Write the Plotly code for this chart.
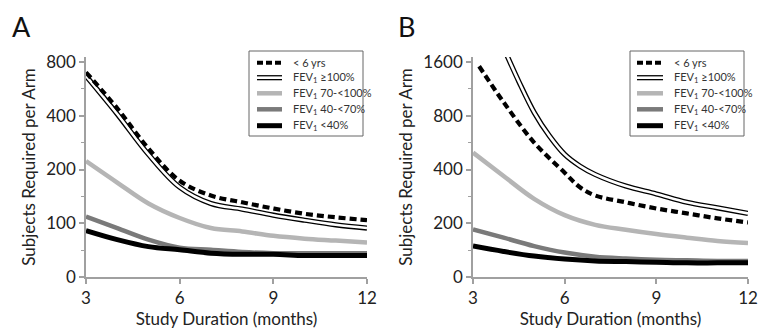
import plotly.graph_objects as go
import math

# ---------------- data ----------------
months = [3, 4, 5, 6, 7, 8, 9, 10, 11, 12]

# Panel A
a_lt6_y = [700, 440, 262, 173, 143, 131, 121, 113, 108, 104]
a_ge100_y = [668, 409, 243, 159, 129, 120, 111, 104, 98, 94]
a_70_100_y = [223, 169, 129, 107, 94, 90, 85, 82, 80, 78]
a_40_70_y = [109, 94, 81, 73, 71, 69, 68, 68, 68, 68]
a_lt40_y = [91, 81, 74, 71, 68, 67, 67, 66, 66, 66]

# Panel B
b_lt6_x = [3.2, 4, 5, 6, 6.5, 7, 8, 9, 10, 11, 12]
b_lt6_y = [1515, 953, 566, 384, 318, 286, 262, 242, 227, 213, 202]
b_ge100_x = [4.1, 4.5, 5, 5.5, 6, 6.5, 7, 8, 9, 10, 11, 12]
b_ge100_y = [1760, 1244, 836, 617, 486, 418, 375, 323, 292, 262, 244, 227]
b_70_100_y = [497, 368, 274, 222, 196, 184, 174, 166, 159, 155]
b_40_70_y = [185, 166, 149, 137, 130, 127, 125, 124, 123, 123]
b_lt40_y = [149, 139, 131, 126, 123, 122, 121, 120, 120, 120]

x_ticks = [3, 6, 9, 12]
a_tickvals = [50, 100, 200, 400, 800]
a_ticktext = ["0", "100", "200", "400", "800"]
b_tickvals = [100, 200, 400, 800, 1600]
b_ticktext = ["0", "200", "400", "800", "1600"]

legend_labels = ["&lt; 6 yrs", "FEV<sub>1</sub> ≥100%", "FEV<sub>1</sub> 70-&lt;100%",
                 "FEV<sub>1</sub> 40-&lt;70%", "FEV<sub>1</sub> &lt;40%"]

# ---------------- styles ----------------
W, H = 761, 333
FONT = "Lato"
AXCOL = "#a0a0a0"
LIGHT = "#b5b5b5"
DARK = "#7a7a7a"
BLACK = "#000000"


def px(x):
    return x / W


def py(y):
    return 1 - y / H


fig = go.Figure()


def add_panel(xa, ya, xs_lt6, ys_lt6, xs_ge, ys_ge, y70, y40, ylt40):
    common = dict(xaxis=xa, yaxis=ya, mode="lines", showlegend=False,
                  line_shape="spline", hoverinfo="skip")
    fig.add_trace(go.Scatter(x=months, y=y70, line=dict(color=LIGHT, width=4.5), **common))
    fig.add_trace(go.Scatter(x=months, y=y40, line=dict(color=DARK, width=4.5), **common))
    fig.add_trace(go.Scatter(x=months, y=ylt40, line=dict(color=BLACK, width=5), **common))
    fig.add_trace(go.Scatter(x=xs_ge, y=ys_ge, line=dict(color=BLACK, width=5.2), **common))
    fig.add_trace(go.Scatter(x=xs_ge, y=ys_ge, line=dict(color="white", width=2.6), **common))
    fig.add_trace(go.Scatter(x=xs_lt6, y=ys_lt6,
                             line=dict(color=BLACK, width=4.2, dash="7px,4px"), **common))


add_panel("x", "y", months, a_lt6_y, months, a_ge100_y, a_70_100_y, a_40_70_y, a_lt40_y)
add_panel("x2", "y2", b_lt6_x, b_lt6_y, b_ge100_x, b_ge100_y, b_70_100_y, b_40_70_y, b_lt40_y)

PLOT_TOP, PLOT_BOT = 57, 277
per_doubling = (277 - 62) / 4.0
extra = (62 - PLOT_TOP) / per_doubling * math.log10(2)

xcommon = dict(range=[3, 12], tickvals=x_ticks, showline=True, linecolor=AXCOL, linewidth=1.6,
               ticks="outside", ticklen=5, tickcolor=AXCOL, tickwidth=1.6,
               showgrid=False, zeroline=False, automargin=False,
               tickfont=dict(family=FONT, size=17, color="#222"),
               title=dict(text="Study Duration (months)", standoff=3,
                          font=dict(family=FONT, size=17, color="#222")))
ycommon = dict(type="log", showline=True, linecolor=AXCOL, linewidth=1.6,
               ticks="outside", ticklen=5, tickcolor=AXCOL, tickwidth=1.6,
               showgrid=False, zeroline=False, automargin=False,
               tickfont=dict(family=FONT, size=17, color="#222"),
               title=dict(text="Subjects Required per Arm", standoff=6,
                          font=dict(family=FONT, size=17, color="#222")))

yd = [py(PLOT_BOT), py(PLOT_TOP)]

fig.update_layout(
    width=W, height=H,
    margin=dict(l=0, r=0, t=0, b=0),
    paper_bgcolor="white", plot_bgcolor="white",
    font=dict(family=FONT, color="#222"),
    xaxis=dict(domain=[px(86), px(367)], anchor="y", **xcommon),
    yaxis=dict(domain=yd, anchor="x",
               range=[math.log10(50), math.log10(800) + extra],
               tickvals=a_tickvals, ticktext=a_ticktext,
               minor=dict(tickvals=[v * math.sqrt(2) for v in a_tickvals[:-1]],
                          ticks="outside", ticklen=3, tickcolor=AXCOL, tickwidth=1.4),
               **ycommon),
    xaxis2=dict(domain=[px(473), px(748)], anchor="y2", **xcommon),
    yaxis2=dict(domain=yd, anchor="x2",
                range=[math.log10(100), math.log10(1600) + extra],
                tickvals=b_tickvals, ticktext=b_ticktext,
                minor=dict(tickvals=[v * math.sqrt(2) for v in b_tickvals[:-1]],
                           ticks="outside", ticklen=3, tickcolor=AXCOL, tickwidth=1.4),
                **ycommon),
)

# panel letters
for letter, xl in (("A", 10), ("B", 396)):
    fig.add_annotation(text=letter, xref="paper", yref="paper", x=px(xl), y=py(8),
                       xanchor="left", yanchor="top", showarrow=False,
                       font=dict(family=FONT, size=27, color="#111"))

# manual legends
shapes = []
row_y = [62.7, 77.7, 93.3, 109.3, 125.7]
for (bx0, bx1, sx0, sx1, tx) in ((249, 363, 257, 282, 291), (630, 744, 637, 663, 672)):
    shapes.append(dict(type="rect", xref="paper", yref="paper",
                       x0=px(bx0), x1=px(bx1), y0=py(136), y1=py(51),
                       line=dict(color="#666", width=1), fillcolor="white", layer="above"))
    styles = [
        [dict(color=BLACK, width=4, dash="6px,3px")],
        [dict(color=BLACK, width=5.2), dict(color="white", width=2.6)],
        [dict(color=LIGHT, width=4.5)],
        [dict(color=DARK, width=4.5)],
        [dict(color=BLACK, width=5)],
    ]
    for ry, st, lab in zip(row_y, styles, legend_labels):
        for s in st:
            shapes.append(dict(type="line", xref="paper", yref="paper",
                               x0=px(sx0), x1=px(sx1), y0=py(ry), y1=py(ry),
                               line=s, layer="above"))
        fig.add_annotation(text=lab, xref="paper", yref="paper", x=px(tx), y=py(ry),
                           xanchor="left", yanchor="middle", showarrow=False,
                           font=dict(family=FONT, size=11, color="#333"))
fig.update_layout(shapes=shapes)

fig.write_html("out.html", config={"displayModeBar": False},
               post_script="document.body.style.margin='0';")
